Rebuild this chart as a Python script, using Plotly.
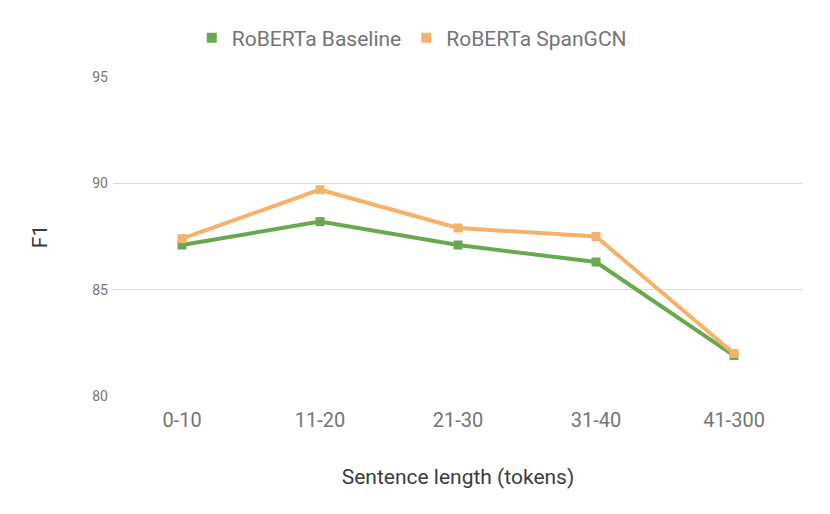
import plotly.graph_objects as go

categories = ["0-10", "11-20", "21-30", "31-40", "41-300"]
baseline = [87.1, 88.2, 87.1, 86.3, 81.9]
spangcn = [87.4, 89.7, 87.9, 87.5, 82.0]
series_names = ["RoBERTa Baseline", "RoBERTa SpanGCN"]
colors = ["#6aa84f", "#f6b26b"]
y_ticks = [80, 85, 90, 95]

fig = go.Figure()
for name, vals, col in zip(series_names, [baseline, spangcn], colors):
    fig.add_trace(go.Scatter(
        x=categories, y=vals, mode="lines+markers", name=name,
        line=dict(color=col, width=4),
        marker=dict(symbol="square", size=9, color=col),
        showlegend=False,
    ))
for name, col in zip(series_names, colors):
    fig.add_trace(go.Scatter(
        x=[None], y=[None], mode="markers", name=name,
        marker=dict(symbol="square", size=10, color=col),
    ))

fig.update_layout(
    width=830, height=514,
    margin=dict(l=105, r=35, t=69, b=126, autoexpand=False),
    paper_bgcolor="white", plot_bgcolor="white",
    font=dict(family="Roboto, sans-serif", color="#757575"),
    legend=dict(orientation="h", x=0.433, xanchor="center", y=1.122, yanchor="middle",
                font=dict(size=21, color="#757575"), itemwidth=30,
                traceorder="normal"),
    xaxis=dict(
        type="category", range=[-0.5, 4.5], automargin=False,
        showgrid=False, showline=False, ticks="", ticklabelstandoff=10,
        tickfont=dict(size=20, color="#757575"),
        title=dict(text="Sentence length (tokens)", font=dict(size=21, color="#3c3c3c"), standoff=38),
    ),
    yaxis=dict(
        range=[80, 95], tickvals=y_ticks, showgrid=True, gridcolor="#d9d9d9", gridwidth=1,
        zeroline=False, showline=False, ticks="", automargin=False, ticklabelstandoff=4,
        tickfont=dict(size=14, color="#757575"),
        title=dict(text="F1", font=dict(size=21, color="#3c3c3c"), standoff=38),
    ),
)
fig.write_html("out.html")
